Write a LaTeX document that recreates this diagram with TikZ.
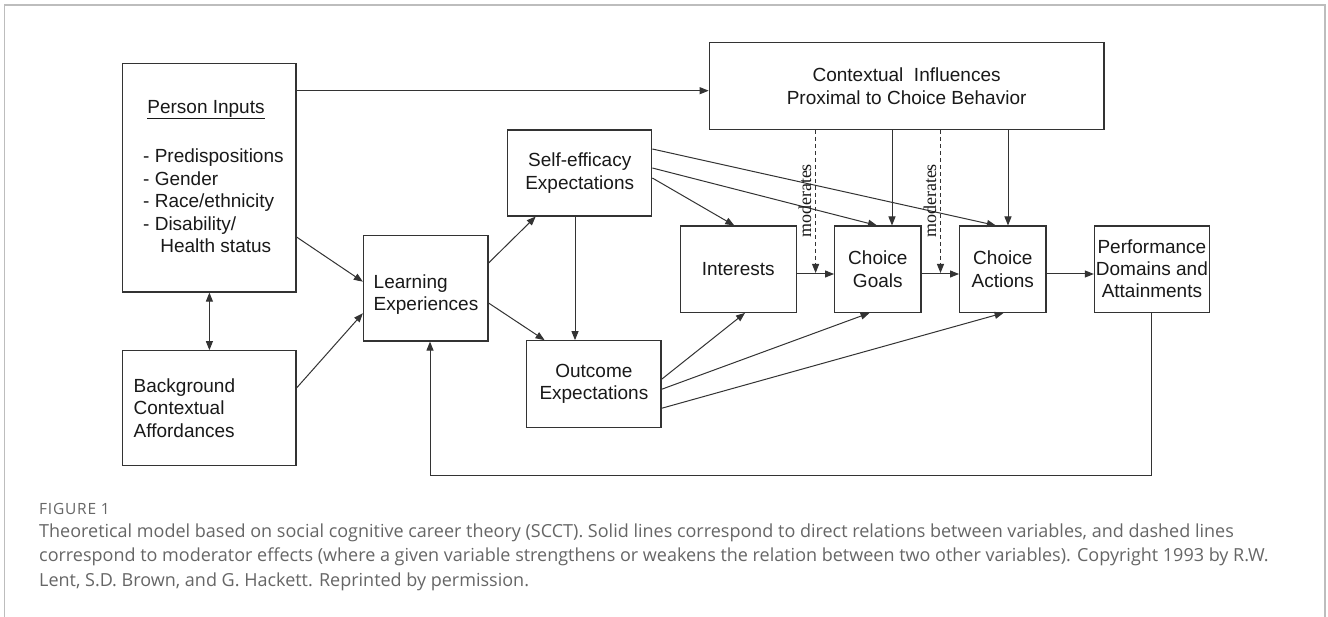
\documentclass[tikz,border=0pt]{standalone}
\usepackage{fontspec}
\setmainfont{Liberation Sans}
\newfontfamily\serifm{Liberation Serif}
\newfontfamily\capfont{Open Sans}
\newfontfamily\figfont[LetterSpace=5]{Open Sans}
\usetikzlibrary{arrows.meta,calc}
\definecolor{ln}{HTML}{333333}
\definecolor{capgray}{HTML}{666666}
\definecolor{framegray}{HTML}{BDBDBD}
\begin{document}
\begin{tikzpicture}[x=1pt,y=-1pt,
  box/.style={draw=ln, line width=1.1pt, inner sep=0pt, align=center, text=black!90,
    font=\fontsize{19}{22.5}\selectfont},
  lbl/.style={inner sep=0pt, text=black!90, font=\fontsize{19}{22.5}\selectfont},
  arr/.style={draw=ln, line width=1pt, -{Triangle[length=9pt,width=7pt]}},
  darr/.style={arr, dashed, dash pattern=on 4pt off 3pt},
  mod/.style={inner sep=0pt, rotate=90, text=black!90, font=\serifm\fontsize{18}{20}\selectfont},
  capline/.style={inner sep=0pt, anchor=base west, text=capgray, font=\capfont\fontsize{18}{20}\selectfont}
]
\useasboundingbox (0,0) rectangle (1328,617);
\fill[white] (0,0) rectangle (1328,617);
\draw[framegray, line width=1.2pt] (4.5,617) -- (4.5,5) -- (1325,5) -- (1325,617);

% boxes
\node[box, minimum width=173.2pt, minimum height=228.7pt] (person) at (209.4,177.7) {};
\node[lbl] (ptitle) at (206,109.5) {\underline{Person Inputs}};
\node[lbl, align=left, anchor=west] (plist) at (143,201) {- Predispositions\\- Gender\\- Race/ethnicity\\- Disability/\\\hspace{0.9em}Health status};

\node[box, minimum width=173.2pt, minimum height=115pt] (bg) at (209.4,408.2) {};
\node[lbl, align=left, anchor=west] (bgtext) at (133.5,408.2) {Background\\Contextual\\Affordances};

\node[box, minimum width=124.6pt, minimum height=105.7pt] (learn) at (425.7,288.2) {};
\node[lbl, align=left] (learntext) at (426,294.5) {Learning\\Experiences};

\node[box, minimum width=144.2pt, minimum height=86pt] (se) at (579.7,173) {Self-efficacy\\Expectations};
\node[box, minimum width=134.2pt, minimum height=86.6pt] (out) at (593.9,384) {Outcome\\Expectations};

\node[box, minimum width=394.8pt, minimum height=86.6pt] (ctx) at (906.6,86) {Contextual\ \ Influences\\Proximal to Choice Behavior};

\node[box, minimum width=115.7pt, minimum height=86.3pt] (int) at (738.2,269.2) {Interests};
\node[box, minimum width=86.4pt, minimum height=86.3pt] (goals) at (877.8,269.2) {Choice\\Goals};
\node[box, minimum width=86.4pt, minimum height=86.3pt] (act) at (1002.8,269.2) {Choice\\Actions};
\node[box, minimum width=115pt, minimum height=86.3pt, font=\fontsize{19}{22}\selectfont] (perf) at (1151.9,269.2) {Performance\\Domains and\\Attainments};

% connectors
\draw[arr] (person.east |- 0,90.7) -- (ctx.west |- 0,90.7);
\draw[arr] (person.east |- 0,237) -- (learn.west |- 0,281.7);
\draw[arr] (bg.east |- 0,388) -- (learn.west |- 0,313.3);
\draw[{Triangle[length=9pt,width=7pt]}-{Triangle[length=9pt,width=7pt]}, draw=ln, line width=1pt] (person.south) -- (bg.north);
\draw[arr] (learn.east |- 0,263) -- (se.south -| 535.7,0);
\draw[arr] (learn.east |- 0,303) -- (out.north -| 544.6,0);
\draw[arr] (se.south -| 575,0) -- (out.north -| 575,0);

\draw[arr] (se.east |- 0,178) -- (int.north -| 734.3,0);
\draw[arr] (se.east |- 0,168) -- (goals.north -| 877,0);
\draw[arr] (se.east |- 0,149) -- (act.north -| 995.9,0);

\draw[arr] (out.east |- 0,379.3) -- (int.south -| 745,0);
\draw[arr] (out.east |- 0,389.3) -- (goals.south -| 869.6,0);
\draw[arr] (out.east |- 0,408.3) -- (act.south -| 1003.6,0);

\draw[arr] (ctx.south -| 892,0) -- (goals.north -| 892,0);
\draw[arr] (ctx.south -| 1008,0) -- (act.north -| 1008,0);

\draw[arr] (int.east |- 0,274) -- (goals.west |- 0,274);
\draw[arr] (goals.east |- 0,274) -- (act.west |- 0,274);
\draw[arr] (act.east |- 0,274) -- (perf.west |- 0,274);

\coordinate (m1) at (815.6,273);
\coordinate (m2) at (940.5,273);
\draw[darr] (ctx.south -| m1) -- (m1);
\draw[darr] (ctx.south -| m2) -- (m2);
\node[mod] (mod1) at (805,201) {moderates};
\node[mod] (mod2) at (930,201) {moderates};

\coordinate (fb1) at (1151.5,475);
\coordinate (fb2) at (430,475);
\draw[arr] (perf.south -| fb1) -- (fb1) -- (fb2) -- (learn.south -| fb2);

% caption
\node[capline, font=\figfont\fontsize{15.5}{16}\selectfont] (figlab) at (39,514.5) {FIGURE 1};
\node[capline] (cap1) at (39,537) {Theoretical model based on social cognitive career theory (SCCT). Solid lines correspond to direct relations between variables, and dashed lines};
\node[capline] (cap2) at (39,561.7) {correspond to moderator effects (where a given variable strengthens or weakens the relation between two other variables). Copyright 1993 by R.W.};
\node[capline] (cap3) at (39,586.4) {Lent, S.D. Brown, and G. Hackett. Reprinted by permission.};
\end{tikzpicture}
\end{document}
